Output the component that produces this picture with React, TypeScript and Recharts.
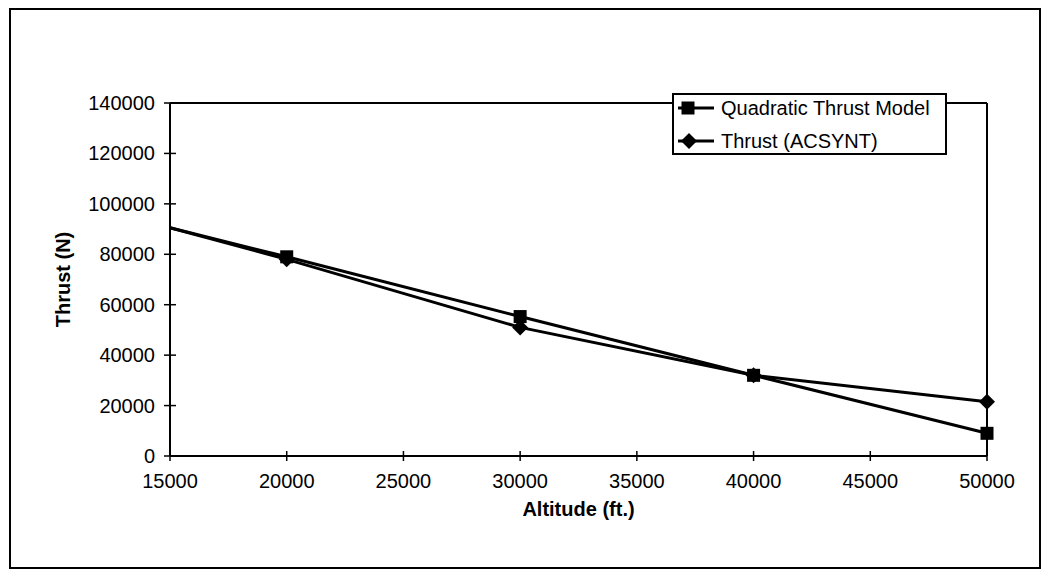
import React from 'react';
import { LineChart, Line, XAxis, YAxis, Legend, ReferenceLine } from 'recharts';

const altitudes = [15000, 20000, 30000, 40000, 50000];
const quadraticThrust = [90500, 79000, 55300, 32000, 9000];
const acsyntThrust = [90500, 78000, 51000, 32000, 21500];

const xTicks = [15000, 20000, 25000, 30000, 35000, 40000, 45000, 50000];
const yTicks = [0, 20000, 40000, 60000, 80000, 100000, 120000, 140000];

const FONT = '"Liberation Sans", Arial, sans-serif';

const data = altitudes.map((alt, i) => ({
  alt,
  quad: quadraticThrust[i],
  acsynt: acsyntThrust[i],
}));

const Square = ({ cx, cy, size = 13 }: { cx: number; cy: number; size?: number }) => (
  <rect x={cx - size / 2} y={cy - size / 2} width={size} height={size} fill="#000" />
);

const Diamond = ({ cx, cy, size = 8 }: { cx: number; cy: number; size?: number }) => (
  <polygon
    points={`${cx},${cy - size} ${cx + size},${cy} ${cx},${cy + size} ${cx - size},${cy}`}
    fill="#000"
  />
);

// first point sits on the y axis (series is clipped there), so no marker
const squareDot = (props: any) => {
  const { cx, cy, index } = props;
  if (index === 0) return <g key={`sq-${index}`} />;
  return <Square key={`sq-${index}`} cx={cx} cy={cy} />;
};

const diamondDot = (props: any) => {
  const { cx, cy, index } = props;
  if (index === 0) return <g key={`dm-${index}`} />;
  return <Diamond key={`dm-${index}`} cx={cx} cy={cy} />;
};

const XTick = (props: any) => {
  const { x, y, payload } = props;
  return (
    <g>
      <line x1={x} x2={x} y1={y - 5} y2={y + 5} stroke="#000" strokeWidth={1.5} />
      <text x={x} y={y + 32} textAnchor="middle" fontSize={20} fontFamily={FONT} fill="#000">
        {payload.value}
      </text>
    </g>
  );
};

const YTick = (props: any) => {
  const { x, y, payload } = props;
  return (
    <g>
      <line x1={x - 6} x2={x + 6} y1={y} y2={y} stroke="#000" strokeWidth={1.5} />
      <text x={x - 15} y={y + 7} textAnchor="end" fontSize={20} fontFamily={FONT} fill="#000">
        {payload.value}
      </text>
    </g>
  );
};

const LegendBox = (props: any) => {
  const { payload = [] } = props;
  return (
    <div
      style={{
        position: 'relative',
        width: 275,
        height: 62,
        border: '2px solid #000',
        boxSizing: 'border-box',
        background: '#fff',
        fontFamily: FONT,
        fontSize: 20,
        color: '#000',
      }}
    >
      {payload.map((entry: any, i: number) => (
        <div
          key={entry.value}
          style={{ position: 'absolute', left: 0, top: i * 33 - 1, height: 28, display: 'flex', alignItems: 'center' }}
        >
          <svg width={44} height={28} style={{ display: 'block' }}>
            <line x1={4} x2={40} y1={14} y2={14} stroke="#000" strokeWidth={3} />
            {entry.dataKey === 'quad' ? <Square cx={14} cy={14} /> : <Diamond cx={15} cy={14} />}
          </svg>
          <span style={{ marginLeft: 3, whiteSpace: 'nowrap', lineHeight: '28px' }}>{entry.value}</span>
        </div>
      ))}
    </div>
  );
};

export default function App() {
  return (
    <div style={{ position: 'absolute', left: 0, top: 0, width: 1045, height: 571, background: '#fff' }}>
      <div
        style={{
          position: 'absolute',
          left: 9,
          top: 8,
          width: 1032,
          height: 561,
          border: '2px solid #000',
          boxSizing: 'border-box',
        }}
      />
      <LineChart
        width={1045}
        height={571}
        data={data}
        margin={{ top: 103, right: 58, bottom: 0, left: 0 }}
        style={{ position: 'absolute', left: 0, top: 0 }}
      >
        {/* legend height (62) is also taken off the bottom, so the axis band is 115 - 62 */}
        <XAxis
          dataKey="alt"
          type="number"
          domain={[15000, 50000]}
          ticks={xTicks}
          height={53}
          tickLine={false}
          tickSize={0}
          tickMargin={0}
          tick={<XTick />}
          axisLine={{ stroke: '#000', strokeWidth: 2 }}
          label={{
            value: 'Altitude (ft.)',
            position: 'center',
            dy: 26,
            fill: '#000',
            fontSize: 20,
            fontWeight: 'bold',
            fontFamily: FONT,
          }}
        />
        <YAxis
          type="number"
          domain={[0, 140000]}
          ticks={yTicks}
          width={170}
          interval={0}
          tickLine={false}
          tickSize={0}
          tickMargin={0}
          tick={<YTick />}
          axisLine={{ stroke: '#000', strokeWidth: 2 }}
          label={{
            value: 'Thrust (N)',
            position: 'center',
            angle: -90,
            dx: -22,
            fill: '#000',
            fontSize: 20,
            fontWeight: 'bold',
            fontFamily: FONT,
          }}
        />
        <ReferenceLine y={140000} stroke="#000" strokeWidth={2} />
        <ReferenceLine x={50000} stroke="#000" strokeWidth={2} />
        <Line
          dataKey="quad"
          name="Quadratic Thrust Model"
          stroke="#000"
          strokeWidth={3}
          dot={squareDot}
          activeDot={false}
          isAnimationActive={false}
        />
        <Line
          dataKey="acsynt"
          name="Thrust (ACSYNT)"
          stroke="#000"
          strokeWidth={3}
          dot={diamondDot}
          activeDot={false}
          isAnimationActive={false}
        />
        <Legend
          content={<LegendBox />}
          wrapperStyle={{ left: 672, top: 93, width: 275, height: 62 }}
        />
      </LineChart>
    </div>
  );
}
